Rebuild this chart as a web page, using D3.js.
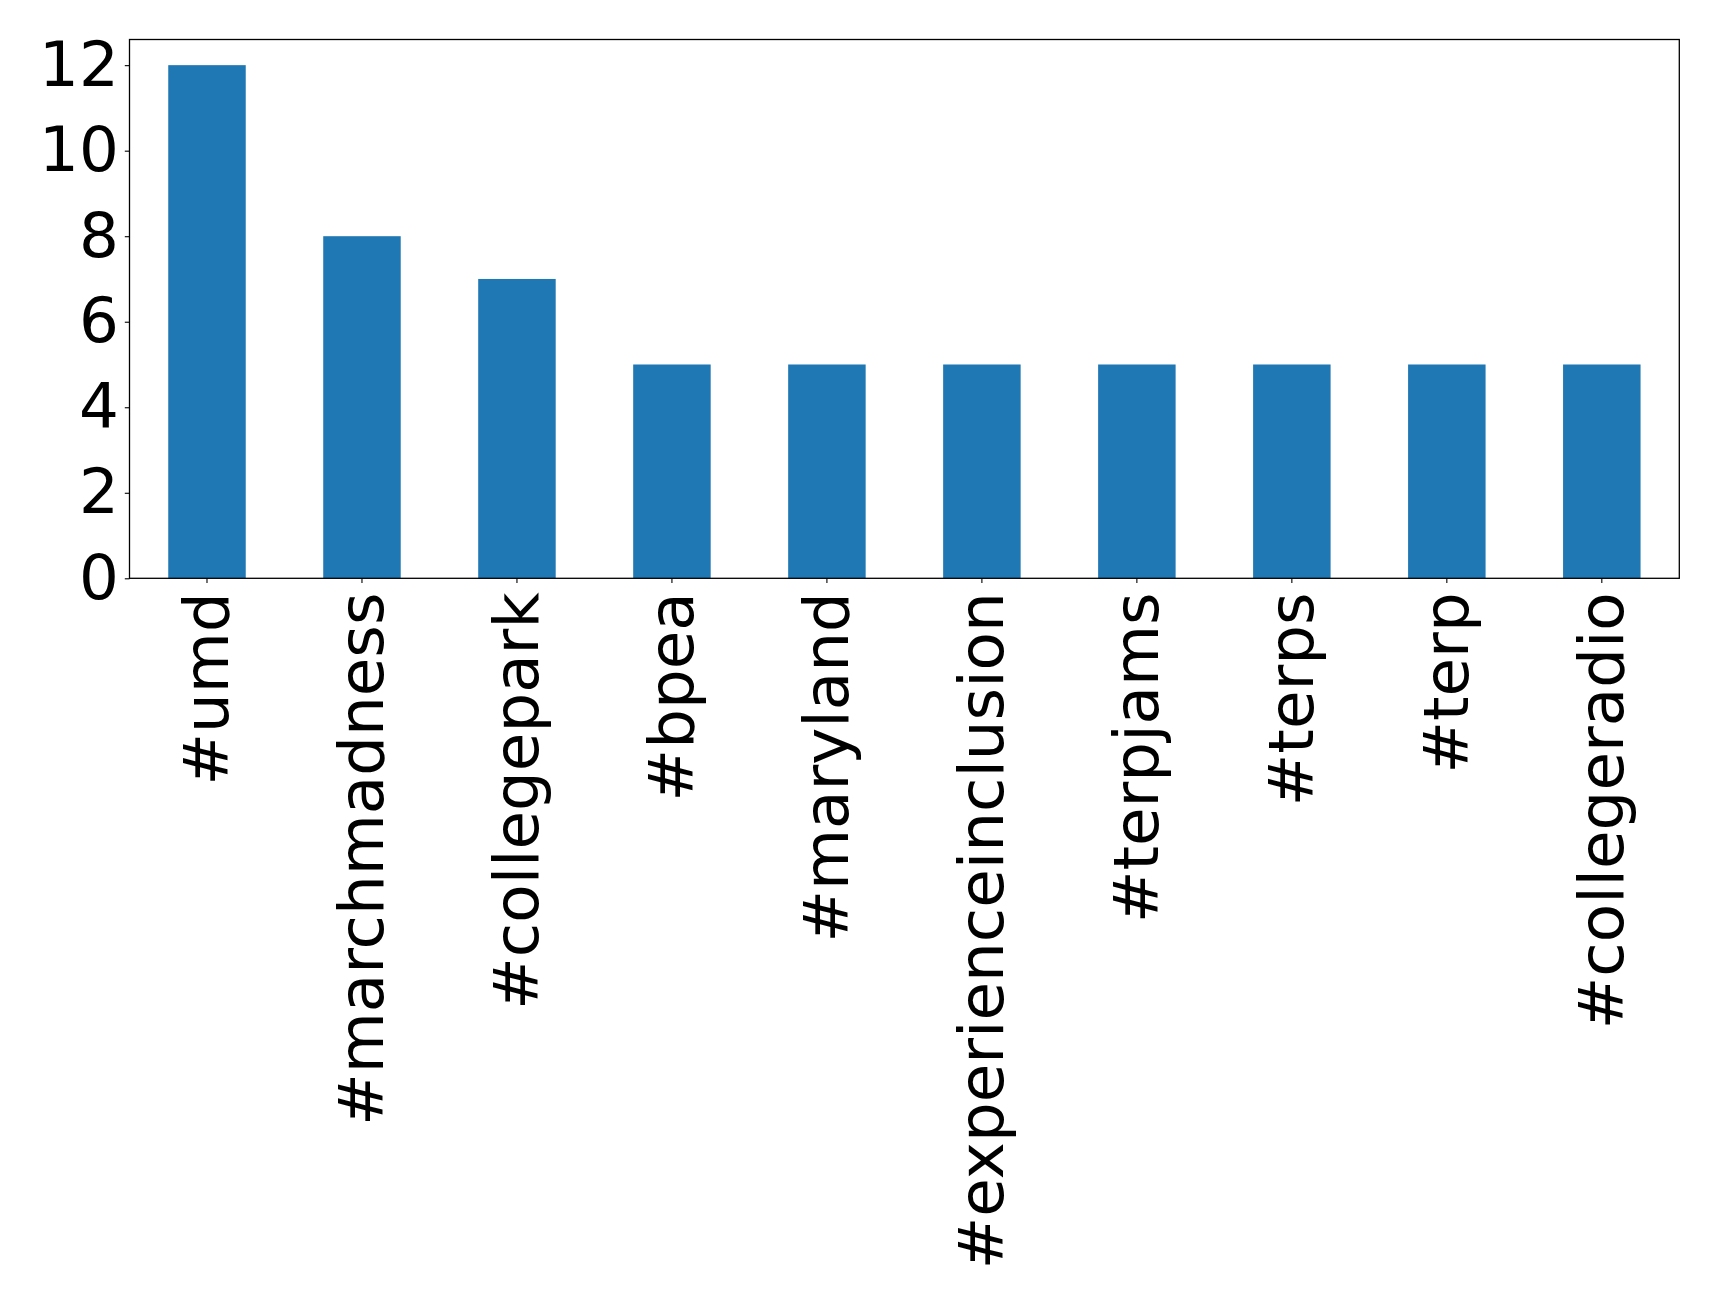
<!DOCTYPE html>
<html><head><meta charset="utf-8">
<script src="https://cdn.jsdelivr.net/npm/d3@7"></script>
<style>body{margin:0;background:#fff}svg{display:block}</style>
</head><body>
<script>
const categories = ["#umd","#marchmadness","#collegepark","#bpea","#maryland","#experienceinclusion","#terpjams","#terps","#terp","#collegeradio"];
const values = [12,8,7,5,5,5,5,5,5,5];
const yTicks = [0,2,4,6,8,10,12];

const W=1719,H=1303;
const L=129.5,R=1679.3,T=39.5,B=578.3;
const svg=d3.select("body").append("svg").attr("width",W).attr("height",H);
const x=d3.scaleBand().domain(categories).range([L,R]).paddingInner(0.5).paddingOuter(0.25);
const y=d3.scaleLinear().domain([0,12.6]).range([B,T]);
const fs=62.7;
svg.selectAll("rect.bar").data(values).join("rect").attr("class","bar")
 .attr("x",(d,i)=>x(categories[i])).attr("width",x.bandwidth())
 .attr("y",d=>y(d)).attr("height",d=>B-y(d)).attr("fill","#1f77b4");

const ya=svg.append("g").attr("transform",`translate(${L},0)`)
 .call(d3.axisLeft(y).tickValues(yTicks).tickSize(4.7).tickPadding(6).tickFormat(d3.format("d")));
ya.select(".domain").remove();
ya.selectAll("text").attr("font-family","DejaVu Sans").attr("font-size",fs).attr("fill","#000");
ya.selectAll("line").attr("stroke","#000").attr("stroke-width",1.1);

const xa=svg.append("g").attr("transform",`translate(0,${B})`)
 .call(d3.axisBottom(x).tickSize(4.7).tickPadding(0));
xa.select(".domain").remove();
xa.selectAll("line").attr("stroke","#000").attr("stroke-width",1.1);
xa.selectAll("text").attr("font-family","DejaVu Sans").attr("font-size",fs).attr("fill","#000")
 .attr("text-anchor","end").attr("dy",null).attr("y",null)
 .attr("dominant-baseline","central")
 .attr("transform","translate(0,14) rotate(-90)");

svg.append("rect").attr("x",L).attr("y",T).attr("width",R-L).attr("height",B-T)
 .attr("fill","none").attr("stroke","#000").attr("stroke-width",1.3);
</script>
</body></html>
